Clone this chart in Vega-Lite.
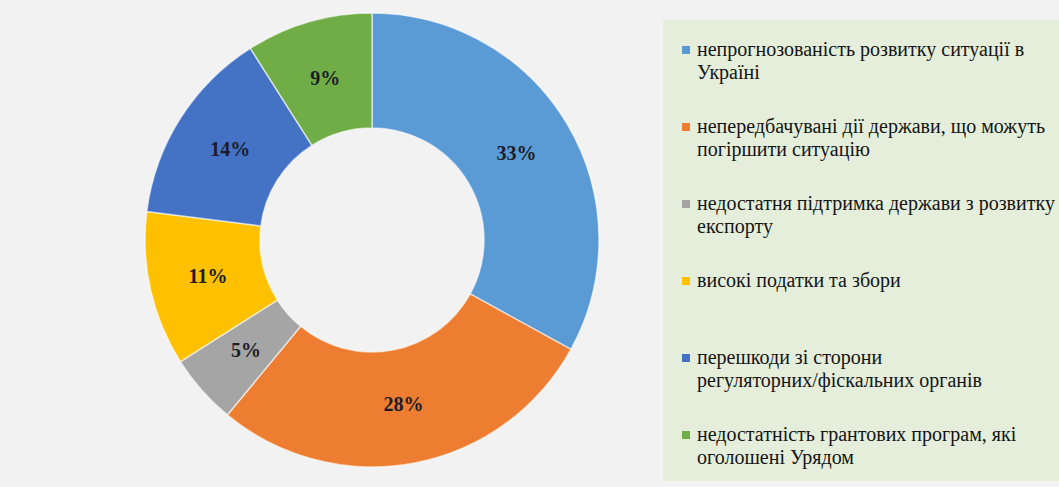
{
  "$schema": "https://vega.github.io/schema/vega-lite/v6.json",
  "width": 744,
  "height": 480,
  "autosize": {"type": "none"},
  "padding": {"left": 0, "top": 0, "right": 315, "bottom": 7},
  "background": "#f2f2f2",
  "view": {"stroke": null},
  "config": {
    "style": {
      "guide-label": {"font": "Liberation Serif", "fontSize": 20, "lineHeight": 23, "fill": "#141414"}
    }
  },
  "data": {
    "values": [
      {"category": "непрогнозованість розвитку ситуації в|Україні", "value": 0.33, "order": 1},
      {"category": "непередбачувані дії держави, що можуть|погіршити ситуацію", "value": 0.28, "order": 2},
      {"category": "недостатня підтримка держави з розвитку|експорту", "value": 0.05, "order": 3},
      {"category": "високі податки та збори|", "value": 0.11, "order": 4},
      {"category": "перешкоди зі сторони|регуляторних/фіскальних органів", "value": 0.14, "order": 5},
      {"category": "недостатність грантових програм, які|оголошені Урядом", "value": 0.09, "order": 6}
    ]
  },
  "encoding": {
    "theta": {"field": "value", "type": "quantitative", "stack": true},
    "order": {"field": "order", "type": "quantitative"},
    "color": {
      "field": "category",
      "type": "nominal",
      "scale": {
        "domain": [
          "непрогнозованість розвитку ситуації в|Україні",
          "непередбачувані дії держави, що можуть|погіршити ситуацію",
          "недостатня підтримка держави з розвитку|експорту",
          "високі податки та збори|",
          "перешкоди зі сторони|регуляторних/фіскальних органів",
          "недостатність грантових програм, які|оголошені Урядом"
        ],
        "range": ["#5b9bd5", "#ed7d31", "#a5a5a5", "#ffc000", "#4472c4", "#70ad47"]
      },
      "legend": {
        "orient": "none",
        "legendX": 663,
        "legendY": 20,
        "title": " ",
        "titleFontSize": 1,
        "titlePadding": 6,
        "fillColor": "#e4eedb",
        "strokeColor": null,
        "padding": 13,
        "symbolType": "square",
        "symbolSize": 64,
        "symbolStrokeWidth": 0,
        "symbolOpacity": 1,
        "labelFont": "Liberation Serif",
        "labelFontSize": 20,
        "labelColor": "#141414",
        "labelLimit": 420,
        "labelOffset": 1,
        "rowPadding": 34,
        "labelExpr": "split(datum.label, '|')"
      }
    }
  },
  "layer": [
    {
      "mark": {"type": "arc", "innerRadius": 112, "outerRadius": 227, "stroke": "#ffffff", "strokeWidth": 1.5, "strokeOpacity": 0.6}
    },
    {
      "mark": {"type": "text", "radius": 168, "font": "Liberation Serif", "fontSize": 20, "fontWeight": "bold"},
      "encoding": {
        "text": {"field": "value", "type": "quantitative", "format": ".0%"},
        "color": {"value": "#1c1c28"}
      }
    }
  ]
}
